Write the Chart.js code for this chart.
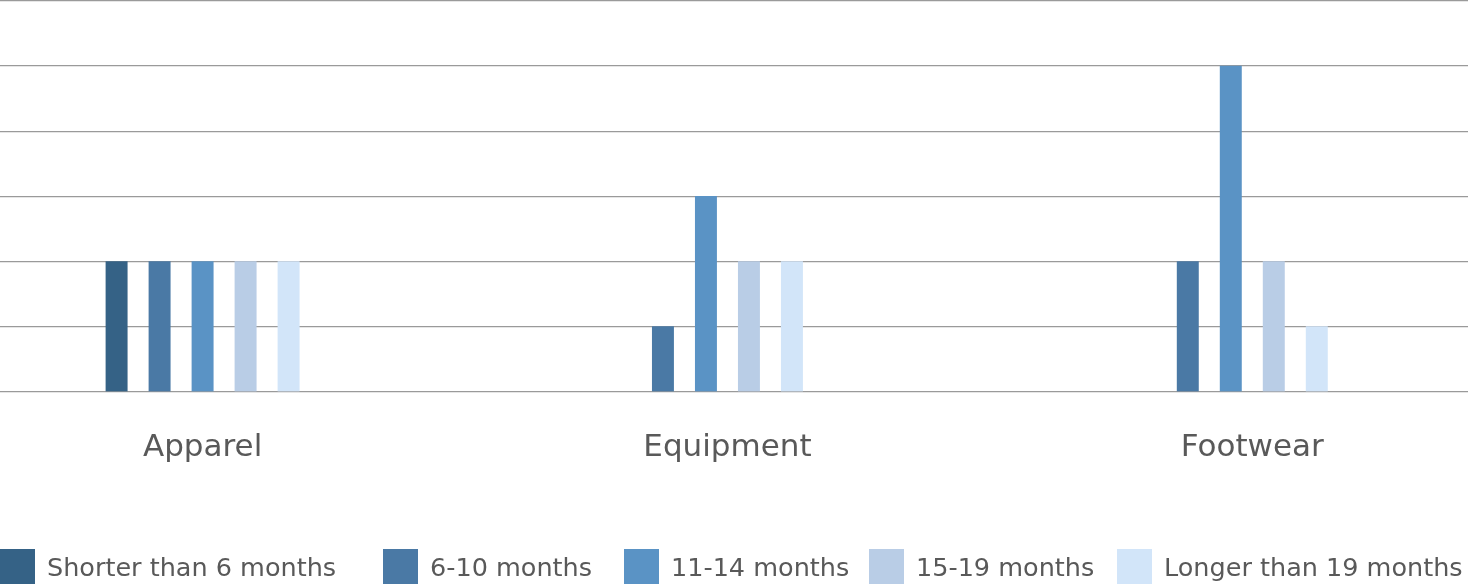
<!DOCTYPE html>
<html>
<head>
<meta charset="utf-8">
<script src="https://cdn.jsdelivr.net/npm/chart.js@4.4.1/dist/chart.umd.min.js"></script>
<style>
    html, body { margin: 0; padding: 0; background: #fff; }
    #wrap { position: relative; width: 1468px; height: 584px; overflow: hidden; }
    #legend {
        position: absolute; left: 0; top: 549px; width: 1468px; height: 35px;
        font-family: 'DejaVu Sans', sans-serif; font-size: 25.5px; color: #595959;
    }
    .item { position: absolute; top: 0; height: 35px; display: flex; align-items: center; white-space: nowrap; }
    .box { width: 35px; height: 35px; margin-right: 12px; }
</style>
</head>
<body>
<div id="wrap">
    <canvas id="chart" width="1468" height="584"></canvas>
    <div id="legend"></div>
</div>
<script>
// categories and series (null = no bar drawn)
const categories = ['Apparel', 'Equipment', 'Footwear'];
const seriesNames = ['Shorter than 6 months', '6-10 months', '11-14 months', '15-19 months', 'Longer than 19 months'];
const shorterThan6 = [2, null, null];
const months6to10 = [2, 1, 2];
const months11to14 = [2, 3, 5];
const months15to19 = [2, 2, 2];
const longerThan19 = [2, 2, 1];
const yTicks = [0, 1, 2, 3, 4, 5, 6];

const colors = ['#356286', '#4a79a5', '#5a93c5', '#b9cde6', '#d2e5f9'];
const legendLeft = [0, 383, 624, 869, 1117];
const seriesValues = [shorterThan6, months6to10, months11to14, months15to19, longerThan19];

const datasets = seriesValues.map((vals, s) => ({
    label: seriesNames[s],
    data: vals.map((v, i) => ({ x: i, y: v })),
    backgroundColor: colors[s],
    borderWidth: 0,
    barThickness: 43,
    maxBarThickness: 21.3
}));

new Chart(document.getElementById('chart'), {
    type: 'bar',
    data: { datasets: datasets },
    options: {
        responsive: false,
        animation: false,
        skipNull: true,
        layout: { padding: { top: 1, bottom: 79, left: 0, right: 0 } },
        plugins: { legend: { display: false }, tooltip: { enabled: false } },
        scales: {
            x: {
                type: 'linear',
                offset: false,
                min: -0.386,
                max: 2.411,
                grid: { display: false, drawTicks: false },
                border: { display: false },
                ticks: {
                    stepSize: 1,
                    includeBounds: false,
                    autoSkip: false,
                    maxRotation: 0,
                    padding: 38,
                    color: '#595959',
                    font: { family: 'DejaVu Sans', size: 31 },
                    callback: (value) => Number.isInteger(value) ? categories[value] : ''
                }
            },
            y: {
                min: yTicks[0],
                max: yTicks[yTicks.length - 1],
                afterBuildTicks: (axis) => { axis.ticks = yTicks.map(v => ({ value: v })); },
                grid: { color: '#9a9a9a', lineWidth: 1.3, drawTicks: false },
                border: { display: false },
                ticks: { display: false }
            }
        }
    }
});

// legend
const legend = document.getElementById('legend');
seriesNames.forEach((name, s) => {
    const item = document.createElement('div');
    item.className = 'item';
    item.style.left = legendLeft[s] + 'px';
    item.innerHTML = `<span class="box" style="background:${colors[s]}"></span><span>${name}</span>`;
    legend.appendChild(item);
});
</script>
</body>
</html>
